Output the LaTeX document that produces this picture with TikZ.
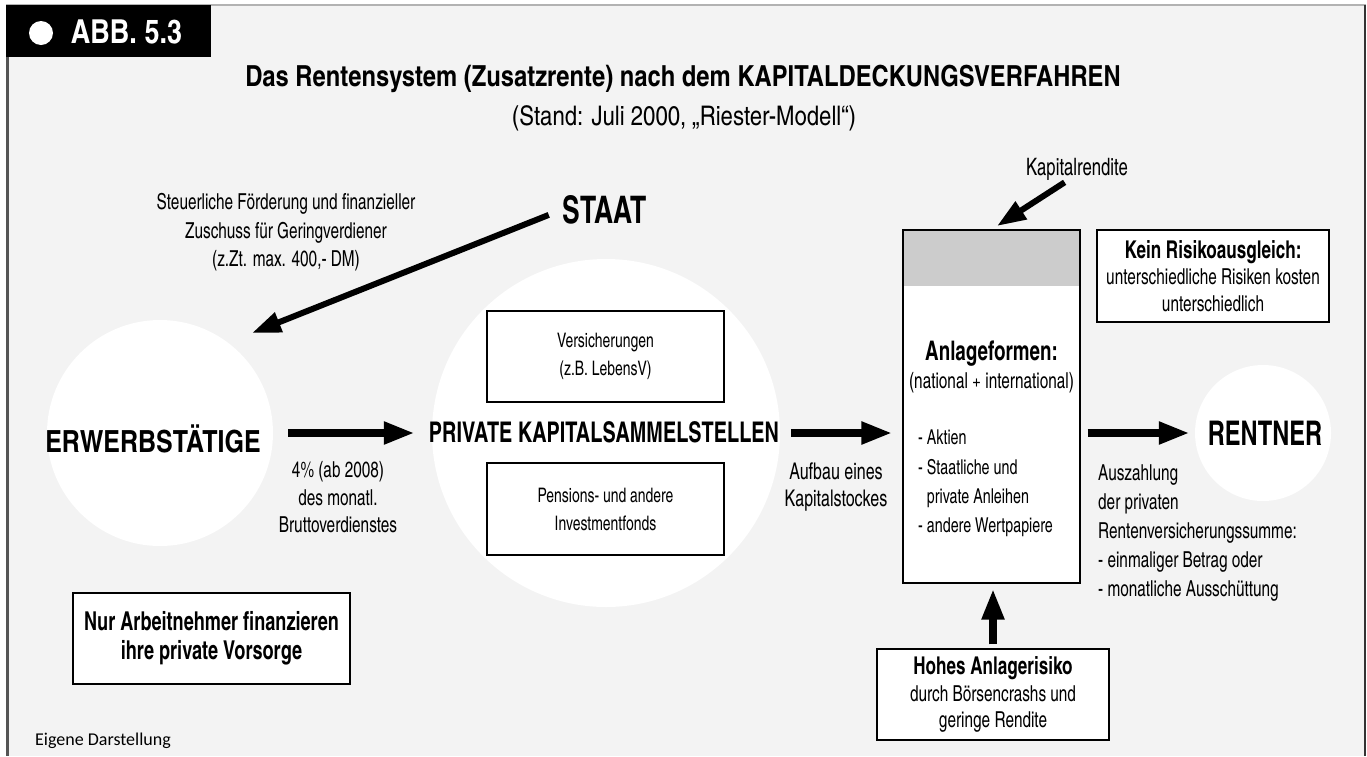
\documentclass[tikz,border=0pt]{standalone}
\usepackage{fontspec}
\setmainfont{texgyreheroscn-regular.otf}[BoldFont=texgyreheroscn-bold.otf,FakeStretch=0.85]
\newfontfamily\breit{texgyreheroscn-regular.otf}[BoldFont=texgyreheroscn-bold.otf]
\newfontfamily\quelle{Carlito}
\usepackage{xcolor}
\usetikzlibrary{arrows.meta}
\definecolor{hgrund}{HTML}{F3F3F3}
\definecolor{band}{HTML}{CCCCCC}
\definecolor{rahmen}{HTML}{555555}

\begin{document}
\begin{tikzpicture}[x=1pt,y=-1pt,
	kreis/.style={circle,fill=white,inner sep=0},
	kasten/.style={draw,fill=white,line width=1.2pt,inner sep=0,align=center},
	klein/.style={font=\fontsize{22}{28.5}\selectfont,inner sep=0,align=center},
	gross/.style={font=\breit\bfseries\fontsize{30.5}{36}\selectfont,inner sep=0},
	pfeil/.style={line width=8pt,-{Triangle[length=31pt,width=21pt]}},
	duennpfeil/.style={line width=6pt,-{Triangle[length=29pt,width=20pt]}}]
	\useasboundingbox (0,0) rectangle (1367,756);
	\fill[white] (0,0) rectangle (1367,756);
	\fill[hgrund] (6,5) rectangle (1366,756);
	\draw[gray!60,line width=1.5pt] (6,5) -- (1366,5);
	\draw[rahmen,line width=3pt] (7.5,57) -- (7.5,756);
	\draw[black!80,line width=2pt] (1365,5) -- (1365,756);
	%
	\fill[black] (6,5) rectangle (211,57);
	\fill[white] (41,33) circle (12);
	\node[anchor=base,inner sep=0,text=white,font=\breit\bfseries\fontsize{33}{36}\selectfont] (abb) at (126.5,43) {ABB. 5.3};
	%
	\node[anchor=base,inner sep=0,font=\breit\bfseries\fontsize{29}{32}\selectfont] (titel) at (683,86) {Das Rentensystem (Zusatzrente) nach dem KAPITALDECKUNGSVERFAHREN};
	\node[anchor=base,inner sep=0,font=\breit\fontsize{27}{30}\selectfont] (stand) at (684,125) {(Stand: Juli 2000, „Riester-Modell“)};
	%
	\node[kreis,minimum size=226] (erw) at (160,433) {};
	\node[kreis,minimum size=348] (priv) at (606,433) {};
	\node[kreis,minimum size=136] (rentner) at (1263,433) {};
	%
	\node[gross,anchor=base] (erwtext) at (153,452) {ERWERBSTÄTIGE};
	\node[gross,anchor=base,font=\bfseries\fontsize{28.5}{32}\selectfont] (privtext) at (604,442) {PRIVATE KAPITALSAMMELSTELLEN};
	\node[gross,anchor=base,font=\bfseries\fontsize{34}{38}\selectfont] (rentnertext) at (1265,445) {RENTNER};
	\node[gross,anchor=base,font=\bfseries\fontsize{38}{42}\selectfont] (staat) at (605,223) {STAAT};
	%
	\node[kasten,minimum width=237,minimum height=91,klein,font=\fontsize{20}{28}\selectfont] (vers) at (605.5,356.5) {Versicherungen\\(z.B. LebensV)};
	\node[kasten,minimum width=237,minimum height=92,klein,font=\fontsize{20}{28}\selectfont] (fonds) at (605.5,509) {Pensions- und andere\\Investmentfonds};
	\node[kasten,minimum width=232,minimum height=92,klein,font=\fontsize{22}{26.5}\selectfont] (kein) at (1213,276) {{\bfseries\fontsize{24.5}{26.5}\selectfont Kein Risikoausgleich:}\\unterschiedliche Risiken kosten\\unterschiedlich};
	\node[kasten,minimum width=232,minimum height=91,klein,font=\fontsize{22}{26.5}\selectfont] (risiko) at (993,694.5) {{\bfseries\fontsize{24.5}{26.5}\selectfont Hohes Anlagerisiko}\\durch Börsencrashs und\\geringe Rendite};
	\node[kasten,minimum width=277,minimum height=91,font=\bfseries\fontsize{26}{29}\selectfont] (nur) at (211.5,638.5) {Nur Arbeitnehmer finanzieren\\ihre private Vorsorge};
	%
	\node[kasten,minimum width=177,minimum height=353,
		path picture={\fill[band] (path picture bounding box.north west) rectangle ([yshift=-56pt]path picture bounding box.north east);}] (anlage) at (991.5,406.5) {};
	\node[anchor=base,inner sep=0,font=\bfseries\fontsize{27}{30}\selectfont] (anlagetitel) at (991.5,360) {Anlageformen:};
	\node[klein,anchor=base] (national) at (991.5,388) {(national + international)};
	\node[klein,anchor=north west,align=left,font=\fontsize{20.5}{29.3}\selectfont] (formen) at (918,430) {- Aktien\\- Staatliche und\\\hphantom{- }private Anleihen\\- andere Wertpapiere};
	%
	\node[klein,anchor=north] (foerderung) at (286,193.5) {Steuerliche Förderung und finanzieller\\Zuschuss für Geringverdiener\\(z.Zt. max. 400,- DM)};
	\node[klein,anchor=north,font=\fontsize{22}{27.5}\selectfont] (beitrag) at (338,461.5) {4\% (ab 2008)\\des monatl.\\Bruttoverdienstes};
	\node[klein,anchor=north,font=\fontsize{23}{27.5}\selectfont] (aufbau) at (836,462.5) {Aufbau eines\\Kapitalstockes};
	\node[klein,anchor=north west,align=left,font=\fontsize{22}{29}\selectfont] (auszahlung) at (1098,464) {Auszahlung\\der privaten\\Rentenversicherungssumme:\\- einmaliger Betrag oder\\- monatliche Ausschüttung};
	\node[klein,anchor=base,font=\fontsize{24}{28}\selectfont] (rendite) at (1077,175) {Kapitalrendite};
	\node[anchor=base west,inner sep=0,font=\quelle\fontsize{18}{20}\selectfont] (quelle) at (35,745) {Eigene Darstellung};
	%
	\coordinate (zuschuss) at (252,333);
	\coordinate (renditeziel) at (997,226);
	%
	\draw[duennpfeil,shorten <=15pt] (staat.west) -- (zuschuss);
	\draw[duennpfeil,shorten <=4pt] ([xshift=-9pt]rendite.south) -- (renditeziel);
	\draw[pfeil,shorten <=15pt,shorten >=17pt] (erw.east) -- (priv.west);
	\draw[pfeil,shorten <=11pt,shorten >=10pt] (priv.east) -- (priv.east -| anlage.west);
	\draw[pfeil,shorten <=7pt,shorten >=5pt] (anlage.east |- rentner.west) -- (rentner.west);
	\draw[pfeil,shorten <=4pt,shorten >=5pt] (risiko.north) -- (risiko.north |- anlage.south);
\end{tikzpicture}
\end{document}
